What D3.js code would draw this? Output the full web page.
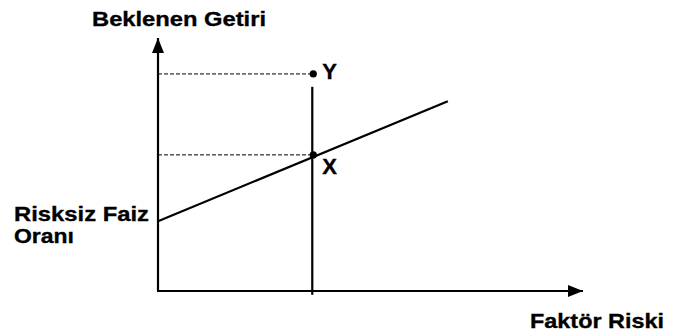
<!DOCTYPE html>
<html>
<head>
<meta charset="utf-8">
<script src="https://cdn.jsdelivr.net/npm/d3@7"></script>
<style>
  body { margin: 0; background: #fff; }
  text { font-family: "Liberation Sans", Arial, sans-serif; font-weight: bold; fill: #000; stroke: #000; stroke-width: 0.35px; }
</style>
</head>
<body>
<div id="chart"></div>
<script>
// data (domain units 0..100 on both axes)
var riskLine = [{ x: 0, y: 27.6 }, { x: 68.2, y: 75.0 }];
var factorX = 36.3;
var points = [
  { name: "Y", x: 36.3, y: 85.8 },
  { name: "X", x: 36.3, y: 53.8 }
];
var axisLabels = { x: "Faktör Riski", y: "Beklenen Getiri" };
var interceptLabel = ["Risksiz Faiz", "Oranı"];

var svgWidth = 691, svgHeight = 333;
var x = d3.scaleLinear().domain([0, 100]).range([158, 583]);
var y = d3.scaleLinear().domain([0, 100]).range([291, 38]);

var svg = d3.select("#chart").append("svg")
  .attr("width", svgWidth)
  .attr("height", svgHeight);

////////////
// ARROWS //
////////////

svg.append("defs").append("marker")
  .attr("id", "arrow")
  .attr("viewBox", "0 0 15 12")
  .attr("refX", 15)
  .attr("refY", 6)
  .attr("markerWidth", 15)
  .attr("markerHeight", 12)
  .attr("markerUnits", "userSpaceOnUse")
  .attr("orient", "auto")
  .append("path")
  .attr("d", "M0,0 L15,6 L0,12 Z")
  .attr("fill", "#000");

// y axis
svg.append("line")
  .attr("x1", x(0)).attr("y1", y(0))
  .attr("x2", x(0)).attr("y2", y(100))
  .attr("stroke", "#000").attr("stroke-width", 2.2)
  .attr("marker-end", "url(#arrow)");

// x axis
svg.append("line")
  .attr("x1", x(0) - 1).attr("y1", y(0))
  .attr("x2", x(100)).attr("y2", y(0))
  .attr("stroke", "#000").attr("stroke-width", 2.2)
  .attr("marker-end", "url(#arrow)");

// dashed guides to the y axis
svg.selectAll(".guide")
  .data(points)
  .enter().append("line")
  .attr("class", "guide")
  .attr("x1", x(0)).attr("x2", function (d) { return x(d.x); })
  .attr("y1", function (d) { return y(d.y); })
  .attr("y2", function (d) { return y(d.y); })
  .attr("stroke", "#000").attr("stroke-width", 1)
  .attr("stroke-dasharray", "4,2");

// vertical line at the factor risk
svg.append("line")
  .attr("x1", x(factorX)).attr("x2", x(factorX))
  .attr("y1", y(80.7)).attr("y2", y(-1.5))
  .attr("stroke", "#000").attr("stroke-width", 2.2);

// risk-return line
svg.append("path")
  .datum(riskLine)
  .attr("fill", "none")
  .attr("stroke", "#000")
  .attr("stroke-width", 2.2)
  .attr("d", d3.line().x(function (d) { return x(d.x); }).y(function (d) { return y(d.y); }));

// points
svg.selectAll(".pt")
  .data(points)
  .enter().append("circle")
  .attr("class", "pt")
  .attr("cx", function (d) { return x(d.x) + 1; })
  .attr("cy", function (d) { return y(d.y); })
  .attr("r", 3.6)
  .attr("fill", "#000");

svg.selectAll(".ptlabel")
  .data(points)
  .enter().append("text")
  .attr("class", "ptlabel")
  .attr("x", function (d) { return x(d.x) + 10; })
  .attr("y", function (d) { return y(d.y) + (d.name === "Y" ? 5 : 19); })
  .style("font-size", "22px")
  .text(function (d) { return d.name; });

////////////
// LABELS //
////////////

svg.append("text")
  .attr("x", 92).attr("y", 26)
  .style("font-size", "21px")
  .attr("textLength", 174).attr("lengthAdjust", "spacingAndGlyphs")
  .text(axisLabels.y);

svg.append("text")
  .attr("x", 530).attr("y", 328)
  .style("font-size", "21px")
  .attr("textLength", 134).attr("lengthAdjust", "spacingAndGlyphs")
  .text(axisLabels.x);

svg.selectAll(".intercept")
  .data(interceptLabel)
  .enter().append("text")
  .attr("class", "intercept")
  .attr("x", 14)
  .attr("y", function (d, i) { return 221 + i * 22; })
  .attr("textLength", function (d, i) { return i === 0 ? 135 : 60; })
  .attr("lengthAdjust", "spacingAndGlyphs")
  .style("font-size", "21px")
  .text(function (d) { return d; });
</script>
</body>
</html>
